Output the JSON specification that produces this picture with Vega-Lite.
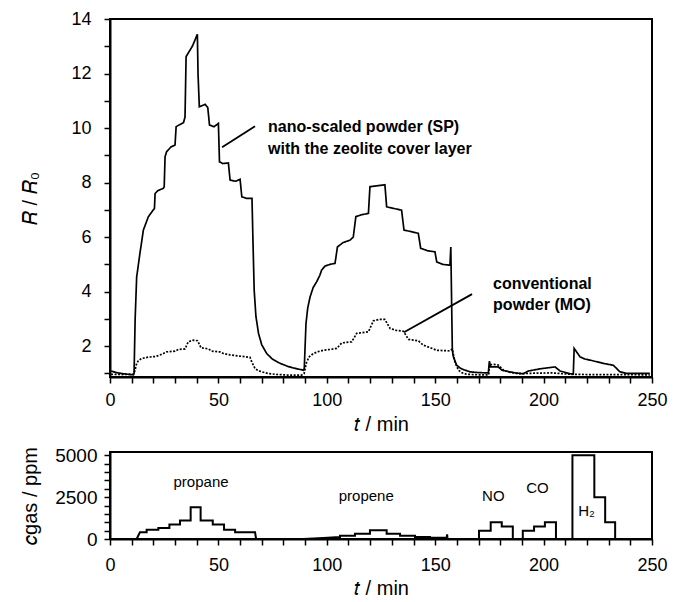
{
  "$schema": "https://vega.github.io/schema/vega-lite/v6.json",
  "padding": {"left": 19, "top": 9, "right": 20, "bottom": 4},
  "spacing": 10,
  "config": {
    "font": "Liberation Sans",
    "view": {"stroke": "black", "strokeWidth": 2},
    "axis": {
      "domainColor": "black", "domainWidth": 2,
      "tickColor": "black", "tickWidth": 1.5, "tickSize": 6,
      "labelColor": "black", "labelFontSize": 18, "labelFont": "Liberation Sans",
      "titleColor": "black", "titleFontSize": 20, "titleFontWeight": "normal", "titleFont": "Liberation Sans",
      "grid": false, "labelFlush": false
    }
  },
  "datasets": {
    "sensor": [
      {"series": "SP", "t": 0.5, "R": 1.09}, {"series": "SP", "t": 3, "R": 1.03}, {"series": "SP", "t": 6, "R": 0.99}, {"series": "SP", "t": 10.8, "R": 0.95},
      {"series": "SP", "t": 11.1, "R": 1.0}, {"series": "SP", "t": 11.6, "R": 3.0}, {"series": "SP", "t": 12.3, "R": 4.54}, {"series": "SP", "t": 13.8, "R": 5.4},
      {"series": "SP", "t": 15.4, "R": 6.26}, {"series": "SP", "t": 17.7, "R": 6.75}, {"series": "SP", "t": 20.0, "R": 7.0}, {"series": "SP", "t": 20.5, "R": 7.05},
      {"series": "SP", "t": 20.8, "R": 7.6}, {"series": "SP", "t": 22, "R": 7.7}, {"series": "SP", "t": 24.6, "R": 7.79}, {"series": "SP", "t": 25.0, "R": 7.85},
      {"series": "SP", "t": 25.4, "R": 8.95}, {"series": "SP", "t": 26.1, "R": 9.13}, {"series": "SP", "t": 28, "R": 9.3}, {"series": "SP", "t": 30.0, "R": 9.38},
      {"series": "SP", "t": 30.5, "R": 10.05}, {"series": "SP", "t": 32, "R": 10.12}, {"series": "SP", "t": 33.9, "R": 10.2}, {"series": "SP", "t": 34.6, "R": 10.4},
      {"series": "SP", "t": 35.1, "R": 12.62}, {"series": "SP", "t": 36.9, "R": 12.86}, {"series": "SP", "t": 38, "R": 13.0}, {"series": "SP", "t": 39.2, "R": 13.23},
      {"series": "SP", "t": 40.3, "R": 13.44}, {"series": "SP", "t": 40.6, "R": 12.0}, {"series": "SP", "t": 41.2, "R": 10.78}, {"series": "SP", "t": 43.9, "R": 10.87},
      {"series": "SP", "t": 45.1, "R": 10.75}, {"series": "SP", "t": 45.9, "R": 10.11}, {"series": "SP", "t": 48, "R": 10.05}, {"series": "SP", "t": 50.0, "R": 10.17},
      {"series": "SP", "t": 50.5, "R": 8.76}, {"series": "SP", "t": 52, "R": 8.7}, {"series": "SP", "t": 54.6, "R": 8.72}, {"series": "SP", "t": 55.4, "R": 8.09},
      {"series": "SP", "t": 58, "R": 8.05}, {"series": "SP", "t": 60.0, "R": 8.12}, {"series": "SP", "t": 60.8, "R": 7.48}, {"series": "SP", "t": 63, "R": 7.42},
      {"series": "SP", "t": 65.5, "R": 7.42}, {"series": "SP", "t": 65.9, "R": 6.0}, {"series": "SP", "t": 66.5, "R": 4.06}, {"series": "SP", "t": 67.3, "R": 3.1},
      {"series": "SP", "t": 68.5, "R": 2.47}, {"series": "SP", "t": 70, "R": 2.05}, {"series": "SP", "t": 72.3, "R": 1.73}, {"series": "SP", "t": 75, "R": 1.52},
      {"series": "SP", "t": 78.5, "R": 1.37}, {"series": "SP", "t": 82, "R": 1.26}, {"series": "SP", "t": 84.6, "R": 1.2}, {"series": "SP", "t": 89.2, "R": 1.12},
      {"series": "SP", "t": 89.6, "R": 1.18}, {"series": "SP", "t": 90.4, "R": 2.83}, {"series": "SP", "t": 91.2, "R": 3.4}, {"series": "SP", "t": 92.3, "R": 3.81},
      {"series": "SP", "t": 93.7, "R": 4.15}, {"series": "SP", "t": 95.3, "R": 4.36}, {"series": "SP", "t": 96.8, "R": 4.6}, {"series": "SP", "t": 97.6, "R": 4.79},
      {"series": "SP", "t": 99.2, "R": 4.94}, {"series": "SP", "t": 101.5, "R": 5.0}, {"series": "SP", "t": 103.8, "R": 5.04}, {"series": "SP", "t": 104.9, "R": 5.64},
      {"series": "SP", "t": 107.5, "R": 5.8}, {"series": "SP", "t": 110.7, "R": 5.89}, {"series": "SP", "t": 112.2, "R": 6.0}, {"series": "SP", "t": 113.4, "R": 6.75},
      {"series": "SP", "t": 116, "R": 6.82}, {"series": "SP", "t": 119.2, "R": 6.87}, {"series": "SP", "t": 119.9, "R": 7.85}, {"series": "SP", "t": 123, "R": 7.88},
      {"series": "SP", "t": 126.8, "R": 7.92}, {"series": "SP", "t": 127.6, "R": 7.11}, {"series": "SP", "t": 131, "R": 7.05}, {"series": "SP", "t": 134.5, "R": 6.99},
      {"series": "SP", "t": 135.6, "R": 6.26}, {"series": "SP", "t": 139, "R": 6.2}, {"series": "SP", "t": 142.2, "R": 6.14}, {"series": "SP", "t": 143.3, "R": 5.59},
      {"series": "SP", "t": 146.5, "R": 5.5}, {"series": "SP", "t": 149.9, "R": 5.46}, {"series": "SP", "t": 150.7, "R": 5.09}, {"series": "SP", "t": 153.5, "R": 5.0},
      {"series": "SP", "t": 156.8, "R": 4.97}, {"series": "SP", "t": 157.2, "R": 5.64}, {"series": "SP", "t": 157.9, "R": 1.85}, {"series": "SP", "t": 158.4, "R": 1.61},
      {"series": "SP", "t": 159.9, "R": 1.3}, {"series": "SP", "t": 161.5, "R": 1.2}, {"series": "SP", "t": 163.0, "R": 1.14}, {"series": "SP", "t": 166.1, "R": 1.06},
      {"series": "SP", "t": 170, "R": 1.03}, {"series": "SP", "t": 174.5, "R": 1.02}, {"series": "SP", "t": 175.0, "R": 1.45}, {"series": "SP", "t": 175.5, "R": 1.24},
      {"series": "SP", "t": 179.1, "R": 1.24}, {"series": "SP", "t": 180.8, "R": 1.12}, {"series": "SP", "t": 183.0, "R": 1.08}, {"series": "SP", "t": 187, "R": 1.02},
      {"series": "SP", "t": 190.6, "R": 0.99}, {"series": "SP", "t": 193.0, "R": 1.09}, {"series": "SP", "t": 198.4, "R": 1.17}, {"series": "SP", "t": 205.3, "R": 1.24},
      {"series": "SP", "t": 207.6, "R": 1.09}, {"series": "SP", "t": 212.2, "R": 0.99}, {"series": "SP", "t": 213.7, "R": 0.98}, {"series": "SP", "t": 214.1, "R": 1.92},
      {"series": "SP", "t": 216.8, "R": 1.61}, {"series": "SP", "t": 219, "R": 1.53}, {"series": "SP", "t": 221.4, "R": 1.49}, {"series": "SP", "t": 224.5, "R": 1.43},
      {"series": "SP", "t": 227.5, "R": 1.37}, {"series": "SP", "t": 232.2, "R": 1.3}, {"series": "SP", "t": 235.2, "R": 1.06}, {"series": "SP", "t": 238.3, "R": 1.0},
      {"series": "SP", "t": 249, "R": 1.0},
      {"series": "MO", "t": 0.5, "R": 0.97}, {"series": "MO", "t": 5, "R": 0.96}, {"series": "MO", "t": 10.8, "R": 0.97}, {"series": "MO", "t": 11.5, "R": 1.1},
      {"series": "MO", "t": 12.3, "R": 1.37}, {"series": "MO", "t": 13.2, "R": 1.48}, {"series": "MO", "t": 14.6, "R": 1.55}, {"series": "MO", "t": 17.7, "R": 1.6},
      {"series": "MO", "t": 20.8, "R": 1.62}, {"series": "MO", "t": 22.5, "R": 1.66}, {"series": "MO", "t": 24.6, "R": 1.73}, {"series": "MO", "t": 26.1, "R": 1.79},
      {"series": "MO", "t": 30, "R": 1.82}, {"series": "MO", "t": 31.5, "R": 1.88}, {"series": "MO", "t": 34.6, "R": 1.9}, {"series": "MO", "t": 36.1, "R": 2.16},
      {"series": "MO", "t": 38.4, "R": 2.22}, {"series": "MO", "t": 40.4, "R": 2.2}, {"series": "MO", "t": 42.0, "R": 1.94}, {"series": "MO", "t": 45.4, "R": 1.9},
      {"series": "MO", "t": 46.9, "R": 1.82}, {"series": "MO", "t": 50.7, "R": 1.79}, {"series": "MO", "t": 52.3, "R": 1.73}, {"series": "MO", "t": 55.4, "R": 1.68},
      {"series": "MO", "t": 59.2, "R": 1.64}, {"series": "MO", "t": 62, "R": 1.62}, {"series": "MO", "t": 64.6, "R": 1.59}, {"series": "MO", "t": 65.4, "R": 1.42},
      {"series": "MO", "t": 66.9, "R": 1.18}, {"series": "MO", "t": 68.5, "R": 1.1}, {"series": "MO", "t": 70, "R": 1.06}, {"series": "MO", "t": 73, "R": 1.0},
      {"series": "MO", "t": 76.1, "R": 0.97}, {"series": "MO", "t": 82, "R": 0.94}, {"series": "MO", "t": 88.4, "R": 0.94}, {"series": "MO", "t": 89.5, "R": 0.99},
      {"series": "MO", "t": 90.7, "R": 1.42}, {"series": "MO", "t": 92, "R": 1.62}, {"series": "MO", "t": 93.8, "R": 1.73}, {"series": "MO", "t": 96, "R": 1.8},
      {"series": "MO", "t": 98.4, "R": 1.85}, {"series": "MO", "t": 101.5, "R": 1.88}, {"series": "MO", "t": 104.6, "R": 1.92}, {"series": "MO", "t": 106.9, "R": 2.12},
      {"series": "MO", "t": 109, "R": 2.14}, {"series": "MO", "t": 111.5, "R": 2.16}, {"series": "MO", "t": 113.8, "R": 2.47}, {"series": "MO", "t": 116.5, "R": 2.5},
      {"series": "MO", "t": 119.2, "R": 2.53}, {"series": "MO", "t": 121.5, "R": 2.93}, {"series": "MO", "t": 124, "R": 2.98}, {"series": "MO", "t": 126.8, "R": 2.98},
      {"series": "MO", "t": 129.2, "R": 2.65}, {"series": "MO", "t": 132, "R": 2.58}, {"series": "MO", "t": 135.3, "R": 2.55}, {"series": "MO", "t": 137.7, "R": 2.25},
      {"series": "MO", "t": 140, "R": 2.22}, {"series": "MO", "t": 142.2, "R": 2.2}, {"series": "MO", "t": 144.5, "R": 2.04}, {"series": "MO", "t": 147.5, "R": 1.95},
      {"series": "MO", "t": 150.7, "R": 1.85}, {"series": "MO", "t": 153.5, "R": 1.84}, {"series": "MO", "t": 156.8, "R": 1.83}, {"series": "MO", "t": 157.9, "R": 1.9},
      {"series": "MO", "t": 159.1, "R": 1.42}, {"series": "MO", "t": 160.7, "R": 1.12}, {"series": "MO", "t": 162.5, "R": 1.02}, {"series": "MO", "t": 164.5, "R": 0.97},
      {"series": "MO", "t": 170, "R": 0.95}, {"series": "MO", "t": 174.7, "R": 0.95}, {"series": "MO", "t": 175.0, "R": 1.32}, {"series": "MO", "t": 177, "R": 1.33},
      {"series": "MO", "t": 179.1, "R": 1.31}, {"series": "MO", "t": 181.5, "R": 1.12}, {"series": "MO", "t": 184, "R": 1.05}, {"series": "MO", "t": 188.4, "R": 0.99},
      {"series": "MO", "t": 196, "R": 1.01}, {"series": "MO", "t": 204, "R": 1.02}, {"series": "MO", "t": 212.2, "R": 0.97}, {"series": "MO", "t": 220, "R": 0.96},
      {"series": "MO", "t": 249, "R": 0.95}
    ],
    "pointers": [
      {"t": 51.7, "R": 9.3, "t2": 66.9, "R2": 10.07},
      {"t": 135.6, "R": 2.51, "t2": 167.0, "R2": 3.91}
    ],
    "notes": [
      {"t": 72.9, "R": 10.04, "label": "nano-scaled powder (SP)"},
      {"t": 72.9, "R": 9.23, "label": "with the zeolite cover layer"},
      {"t": 176.7, "R": 4.28, "label": "conventional"},
      {"t": 176.7, "R": 3.5, "label": "powder (MO)"}
    ],
    "gas": [
      {"t": 0, "c": 0}, {"t": 12.3, "c": 0}, {"t": 13.8, "c": 400}, {"t": 16.9, "c": 400}, {"t": 16.9, "c": 560}, {"t": 22.3, "c": 560},
      {"t": 22.3, "c": 660}, {"t": 27.4, "c": 660}, {"t": 27.4, "c": 860}, {"t": 32.3, "c": 860}, {"t": 32.3, "c": 1100}, {"t": 37.2, "c": 1100},
      {"t": 37.2, "c": 1900}, {"t": 41.8, "c": 1900}, {"t": 41.8, "c": 1100}, {"t": 47.4, "c": 1100}, {"t": 47.4, "c": 860}, {"t": 52.6, "c": 860},
      {"t": 52.6, "c": 560}, {"t": 57.7, "c": 560}, {"t": 57.7, "c": 400}, {"t": 66.9, "c": 400}, {"t": 67.4, "c": 0}, {"t": 89.2, "c": 0},
      {"t": 98.4, "c": 60}, {"t": 106.1, "c": 120}, {"t": 106.1, "c": 200}, {"t": 113.0, "c": 200}, {"t": 113.0, "c": 320}, {"t": 119.9, "c": 320},
      {"t": 119.9, "c": 520}, {"t": 127.6, "c": 520}, {"t": 127.6, "c": 320}, {"t": 133.8, "c": 320}, {"t": 133.8, "c": 200}, {"t": 140.7, "c": 200},
      {"t": 140.7, "c": 120}, {"t": 147.6, "c": 120}, {"t": 147.6, "c": 80}, {"t": 155.3, "c": 80}, {"t": 155.5, "c": 280}, {"t": 155.7, "c": 0},
      {"t": 170.2, "c": 0}, {"t": 170.2, "c": 500}, {"t": 175.6, "c": 500}, {"t": 175.6, "c": 1000}, {"t": 180.7, "c": 1000}, {"t": 180.7, "c": 750},
      {"t": 185.8, "c": 750}, {"t": 185.8, "c": 0}, {"t": 190.4, "c": 0}, {"t": 190.4, "c": 500}, {"t": 195.6, "c": 500}, {"t": 195.6, "c": 750},
      {"t": 200.6, "c": 750}, {"t": 200.6, "c": 1000}, {"t": 205.7, "c": 1000}, {"t": 205.7, "c": 0}, {"t": 213.3, "c": 0}, {"t": 213.3, "c": 5000},
      {"t": 223.4, "c": 5000}, {"t": 223.4, "c": 2500}, {"t": 228.4, "c": 2500}, {"t": 228.4, "c": 1000}, {"t": 233.0, "c": 1000}, {"t": 233.0, "c": 0},
      {"t": 250, "c": 0}
    ],
    "gaslabels": [
      {"t": 42.0, "c": 3420, "label": "propane"},
      {"t": 118.2, "c": 2560, "label": "propene"},
      {"t": 176.8, "c": 2600, "label": "NO"},
      {"t": 197.2, "c": 3020, "label": "CO"},
      {"t": 219.8, "c": 1700, "label": "H₂"}
    ]
  },
  "vconcat": [
    {
      "width": 542,
      "height": 358,
      "encoding": {
        "x": {"field": "t", "type": "quantitative",
              "scale": {"domain": [0, 250], "nice": false},
              "axis": {"title": "𝑡 / min",
                       "values": [0,10,20,30,40,50,60,70,80,90,100,110,120,130,140,150,160,170,180,190,200,210,220,230,240,250],
                       "labelExpr": "datum.value % 50 === 0 ? datum.label : ''",
                       "labelOverlap": false,
                       "labelPadding": 8, "titlePadding": 5}},
        "y": {"field": "R", "type": "quantitative",
              "scale": {"domain": [0.87, 14], "nice": false, "zero": false},
              "axis": {"title": "𝑅 / 𝑅₀",
                       "values": [1,1.5,2,2.5,3,3.5,4,4.5,5,5.5,6,6.5,7,7.5,8,8.5,9,9.5,10,10.5,11,11.5,12,12.5,13,13.5,14],
                       "format": "d",
                       "labelExpr": "datum.value % 2 === 0 ? datum.label : ''",
                       "labelOverlap": false,
                       "labelPadding": 13, "titlePadding": 30}}
      },
      "layer": [
        {
          "data": {"name": "sensor"},
          "mark": {"type": "line", "color": "black", "strokeWidth": 1.7, "clip": true},
          "encoding": {
            "strokeDash": {"field": "series", "type": "nominal",
                           "scale": {"domain": ["SP", "MO"], "range": [[1, 0], [2, 1.5]]}, "legend": null},
            "order": {"value": null}
          }
        },
        {
          "data": {"name": "pointers"},
          "mark": {"type": "rule", "color": "black", "strokeWidth": 1.8},
          "encoding": {
            "x2": {"field": "t2"},
            "y2": {"field": "R2"}
          }
        },
        {
          "data": {"name": "notes"},
          "mark": {"type": "text", "align": "left", "baseline": "middle", "fontSize": 16, "fontWeight": "bold", "color": "black", "font": "Liberation Sans"},
          "encoding": {
            "text": {"field": "label"}
          }
        }
      ]
    },
    {
      "width": 542,
      "height": 87,
      "encoding": {
        "x": {"field": "t", "type": "quantitative",
              "scale": {"domain": [0, 250], "nice": false},
              "axis": {"title": "𝑡 / min",
                       "values": [0,10,20,30,40,50,60,70,80,90,100,110,120,130,140,150,160,170,180,190,200,210,220,230,240,250],
                       "labelExpr": "datum.value % 50 === 0 ? datum.label : ''",
                       "labelOverlap": false,
                       "labelPadding": 11, "titlePadding": 4}},
        "y": {"field": "c", "type": "quantitative",
              "scale": {"domain": [0, 5200], "nice": false},
              "axis": {"title": "𝑐gas / ppm",
                       "values": [0,500,1000,1500,2000,2500,3000,3500,4000,4500,5000],
                       "labelExpr": "datum.value % 2500 === 0 ? datum.label : ''",
                       "labelOverlap": false,
                       "labelPadding": 7, "titlePadding": 14, "format": "d", "labelFontSize": 19}}
      },
      "layer": [
        {
          "data": {"name": "gas"},
          "mark": {"type": "line", "color": "black", "strokeWidth": 2, "clip": true},
          "encoding": {
            "order": {"value": null}
          }
        },
        {
          "data": {"name": "gaslabels"},
          "mark": {"type": "text", "align": "center", "baseline": "middle", "fontSize": 15, "color": "black", "font": "Liberation Sans"},
          "encoding": {
            "text": {"field": "label"}
          }
        }
      ]
    }
  ]
}
